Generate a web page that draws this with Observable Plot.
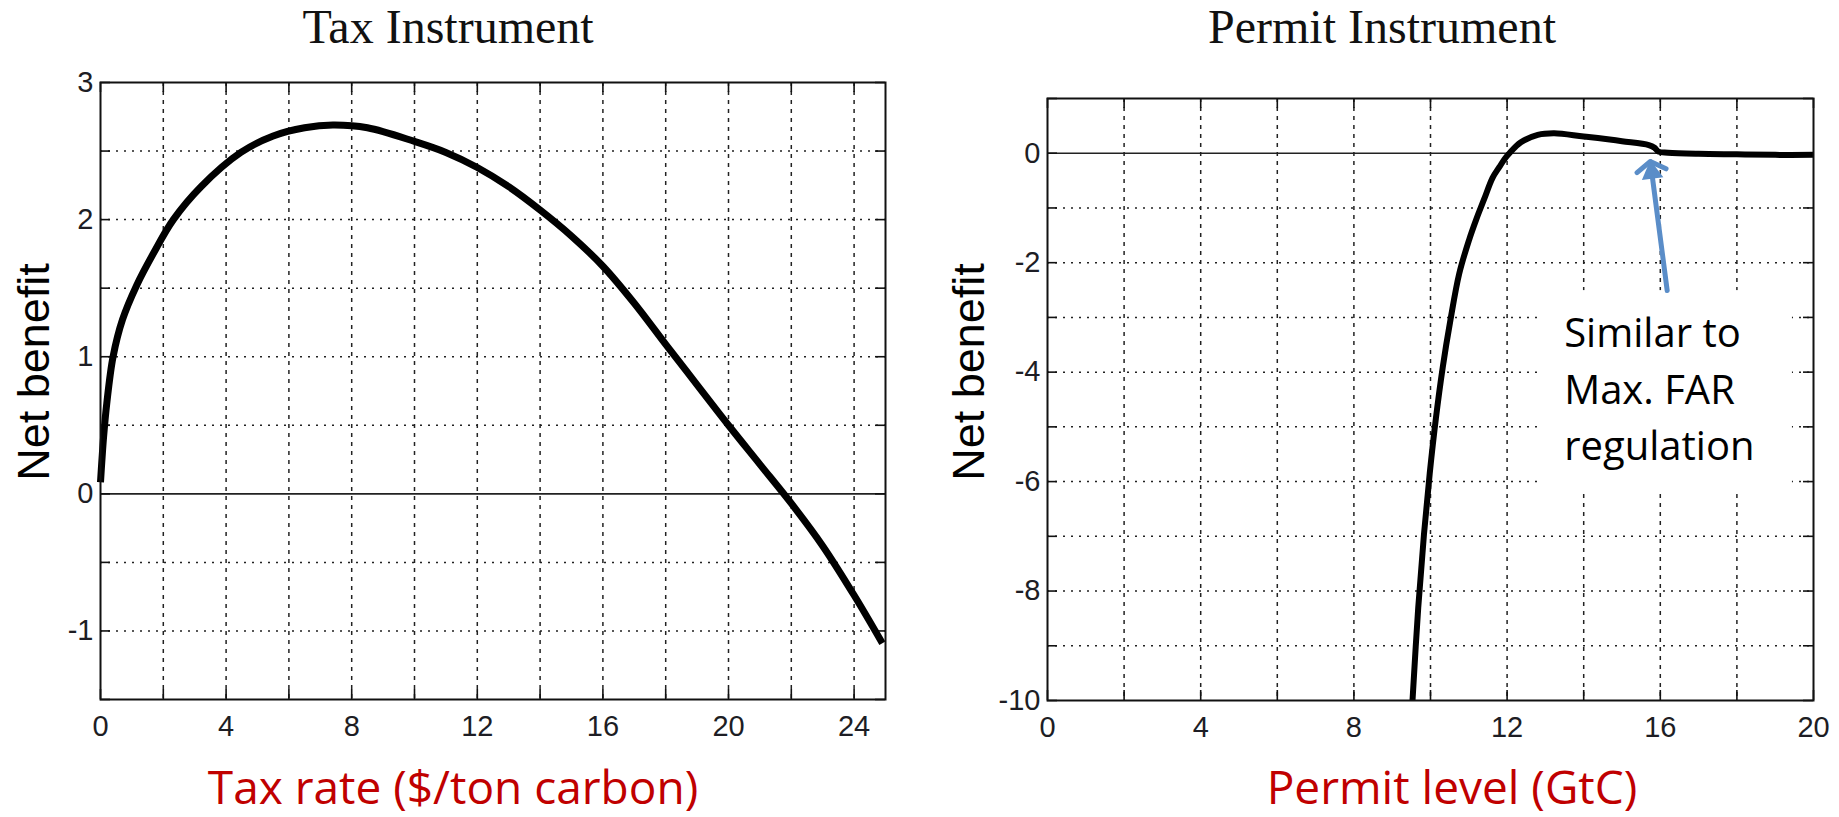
<!DOCTYPE html>
<html>
<head>
<meta charset="utf-8">
<script src="https://cdn.jsdelivr.net/npm/d3@7"></script>
<script src="https://cdn.jsdelivr.net/npm/@observablehq/plot@0.6"></script>
<style>
  html, body { margin: 0; padding: 0; background: #fff; }
  #page { position: relative; width: 1839px; height: 817px; overflow: hidden; background: #fff; }
  .plot { position: absolute; top: 0; }
  .lbl { position: absolute; white-space: nowrap; line-height: 1; }
</style>
</head>
<body>
<div id="page"></div>
<script>
// ---------- Data ----------
const taxRate = [0, 0.1, 0.2, 0.4, 0.7, 1.15, 1.7, 2.32, 3.2, 4.47, 5.5, 6.5, 7.4, 8.5, 10, 11, 12, 13, 14, 15, 16, 17, 18, 19, 20, 21, 22, 23, 24, 24.9];
const taxNetBenefit = [0.085, 0.42, 0.66, 1.0, 1.27, 1.52, 1.76, 2.0, 2.24, 2.49, 2.61, 2.67, 2.69, 2.67, 2.57, 2.49, 2.38, 2.24, 2.07, 1.88, 1.66, 1.39, 1.09, 0.795, 0.5, 0.215, -0.07, -0.38, -0.74, -1.09];

const permitLevel = [9.53, 9.68, 9.83, 9.98, 10.14, 10.32, 10.52, 10.75, 11.0, 11.2, 11.4, 11.62, 11.8, 11.94, 12.06, 12.36, 12.8, 13.23, 14, 15, 15.7, 15.85, 15.95, 16.2, 17, 18, 19, 20];
const permitNetBenefit = [-10, -8.3, -6.96, -5.85, -4.85, -3.91, -3.05, -2.2, -1.6, -1.2, -0.84, -0.45, -0.25, -0.1, 0, 0.2, 0.336, 0.366, 0.305, 0.22, 0.15, 0.1, 0.03, 0.01, -0.01, -0.02, -0.03, -0.03];

const taxXTicks = [0, 4, 8, 12, 16, 20, 24];
const taxYTicks = [-1, 0, 1, 2, 3];
const taxGridX = [2, 4, 6, 8, 10, 12, 14, 16, 18, 20, 22, 24];
const taxGridY = [-1, -0.5, 0.5, 1, 1.5, 2, 2.5];
const taxTickX = [0, 2, 4, 6, 8, 10, 12, 14, 16, 18, 20, 22, 24];
const taxTickY = [-1.5, -1, -0.5, 0, 0.5, 1, 1.5, 2, 2.5, 3];

const permitXTicks = [0, 4, 8, 12, 16, 20];
const permitYTicks = [0, -2, -4, -6, -8, -10];
const permitGridX = [2, 4, 6, 8, 10, 12, 14, 16, 18];
const permitGridY = [-1, -2, -3, -4, -5, -6, -7, -8, -9];
const permitTickX = [0, 2, 4, 6, 8, 10, 12, 14, 16, 18, 20];
const permitTickY = [1, 0, -1, -2, -3, -4, -5, -6, -7, -8, -9, -10];

// annotation (data coordinates)
const noteBox = [{x1: 12.86, x2: 19.45, y1: -2.51, y2: -6.17}];
const noteArrow = [{x1: 16.18, y1: -2.51, x2: 15.74, y2: -0.15}];
const noteText = [{x: 13.49, y: -2.8, text: "Similar to\nMax. FAR\nregulation"}];

const titles = ["Tax Instrument", "Permit Instrument"];
const xLabels = ["Tax rate ($/ton carbon)", "Permit level (GtC)"];
const yLabel = "Net benefit";

// ---------- Helpers ----------
const tickFont = "'Liberation Sans', Arial, Helvetica, sans-serif";
const fmt = d => String(d);
const grid = "#222";
const blue = "#5a8dc8";

function panel({w, h, ml, mr, mt, mb, xDomain, yDomain, gridX, gridY, tickX, tickY, xTicks, yTicks, data, lineWidth, under = [], over = []}) {
  const pw = w - ml - mr, ph = h - mt - mb;
  return Plot.plot({
    width: w, height: h,
    marginLeft: ml, marginRight: mr, marginTop: mt, marginBottom: mb,
    x: {domain: xDomain},
    y: {domain: yDomain},
    style: {fontFamily: tickFont, fontSize: "29px", color: "#1d1d24", background: "transparent", overflow: "visible"},
    marks: [
      Plot.ruleX(gridX, {stroke: grid, strokeWidth: 1.5, strokeDasharray: "4,5"}),
      Plot.ruleY(gridY, {stroke: grid, strokeWidth: 1.5, strokeDasharray: "2,6"}),
      ...under,
      Plot.ruleY([0], {stroke: "#222", strokeWidth: 1.6}),
      Plot.tickX(tickX, {x: d => d, stroke: "#111", strokeWidth: 1.6, insetTop: ph - 10}),
      Plot.tickX(tickX, {x: d => d, stroke: "#111", strokeWidth: 1.6, insetBottom: ph - 10}),
      Plot.tickY(tickY, {y: d => d, stroke: "#111", strokeWidth: 1.6, insetRight: pw - 10}),
      Plot.tickY(tickY, {y: d => d, stroke: "#111", strokeWidth: 1.6, insetLeft: pw - 10}),
      Plot.axisX({ticks: xTicks, tickSize: 0, tickPadding: 16, tickFormat: fmt, label: null, fontSize: 29, fontFamily: tickFont, fill: "#1d1d24"}),
      Plot.axisY({ticks: yTicks, tickSize: 0, tickPadding: 7, tickFormat: fmt, label: null, fontSize: 29, fontFamily: tickFont, fill: "#1d1d24"}),
      Plot.line(data, {x: "x", y: "y", stroke: "#000", strokeWidth: lineWidth, curve: "catmull-rom", strokeLinecap: "butt", strokeLinejoin: "round"}),
      ...over,
      Plot.frame({stroke: "#111", strokeWidth: 2})
    ]
  });
}

const taxData = taxRate.map((x, i) => ({x, y: taxNetBenefit[i]}));
const permitData = permitLevel.map((x, i) => ({x, y: permitNetBenefit[i]}));

const leftSvg = panel({
  w: 920, h: 760, ml: 100, mr: 35, mt: 82, mb: 61,
  xDomain: [0, 25], yDomain: [-1.5, 3],
  gridX: taxGridX, gridY: taxGridY, tickX: taxTickX, tickY: taxTickY,
  xTicks: taxXTicks, yTicks: taxYTicks, data: taxData, lineWidth: 7
});

const rightSvg = panel({
  w: 919, h: 760, ml: 127, mr: 26, mt: 98, mb: 60,
  xDomain: [0, 20], yDomain: [-10, 1],
  gridX: permitGridX, gridY: permitGridY, tickX: permitTickX, tickY: permitTickY,
  xTicks: permitXTicks, yTicks: permitYTicks, data: permitData, lineWidth: 6,
  under: [Plot.rect(noteBox, {x1: "x1", x2: "x2", y1: "y1", y2: "y2", fill: "#fff"})],
  over: [
    Plot.arrow(noteArrow, {x1: "x1", y1: "y1", x2: "x2", y2: "y2", stroke: blue, strokeWidth: 5, headAngle: 115, headLength: 5.2}),
    Plot.dot(noteArrow, {x: "x2", y: "y2", symbol: "triangle", r: 8, fill: blue, stroke: "none", dy: 11, dx: 1.5, rotate: -7}),
    Plot.text(noteText, {x: "x", y: "y", text: "text", textAnchor: "start", lineAnchor: "top", lineHeight: 1.42, fontSize: 40, fontFamily: "'Open Sans', Lato, sans-serif", fill: "#000"})
  ]
});

const page = document.getElementById("page");
const lw = document.createElement("div"); lw.className = "plot"; lw.style.left = "0px"; lw.appendChild(leftSvg); page.appendChild(lw);
const rw = document.createElement("div"); rw.className = "plot"; rw.style.left = "920px"; rw.appendChild(rightSvg); page.appendChild(rw);

// labels: ratio = baseline position (em) inside a line-height:1 box
function label(text, {x, baseline, size, family, ratio, color = "#000", rotate = false, capRatio = 0.716}) {
  const d = document.createElement("div");
  d.className = "lbl";
  d.textContent = text;
  d.style.fontSize = size + "px";
  d.style.fontFamily = family;
  d.style.color = color;
  if (!rotate) {
    d.style.left = x + "px";
    d.style.top = (baseline - ratio * size) + "px";
    d.style.transform = "translateX(-50%)";
  } else {
    const capCenterFromTop = ratio - capRatio / 2;
    const shift = (0.5 - capCenterFromTop) * size;
    const cx = x - capRatio * size / 2 - shift;
    d.style.left = cx + "px";
    d.style.top = baseline + "px";
    d.style.transform = "translate(-50%,-50%) rotate(-90deg)";
  }
  page.appendChild(d);
}
const serif = "'Liberation Serif', 'Times New Roman', serif";
const sans = "'Liberation Sans', Arial, sans-serif";
const calib = "'Open Sans', Lato, sans-serif";
label(titles[0], {x: 448, baseline: 43, size: 48, family: serif, ratio: 0.8375, color: "#111"});
label(titles[1], {x: 1382, baseline: 43, size: 48, family: serif, ratio: 0.8375, color: "#111"});
label(xLabels[0], {x: 453, baseline: 804, size: 46, family: calib, ratio: 0.888, color: "#c00000"});
label(xLabels[1], {x: 1452, baseline: 804, size: 46, family: calib, ratio: 0.888, color: "#c00000"});
label(yLabel, {x: 50, baseline: 371.5, size: 45, family: sans, ratio: 0.8465, rotate: true});
label(yLabel, {x: 985, baseline: 371.5, size: 45, family: sans, ratio: 0.8465, rotate: true});
</script>
</body>
</html>
